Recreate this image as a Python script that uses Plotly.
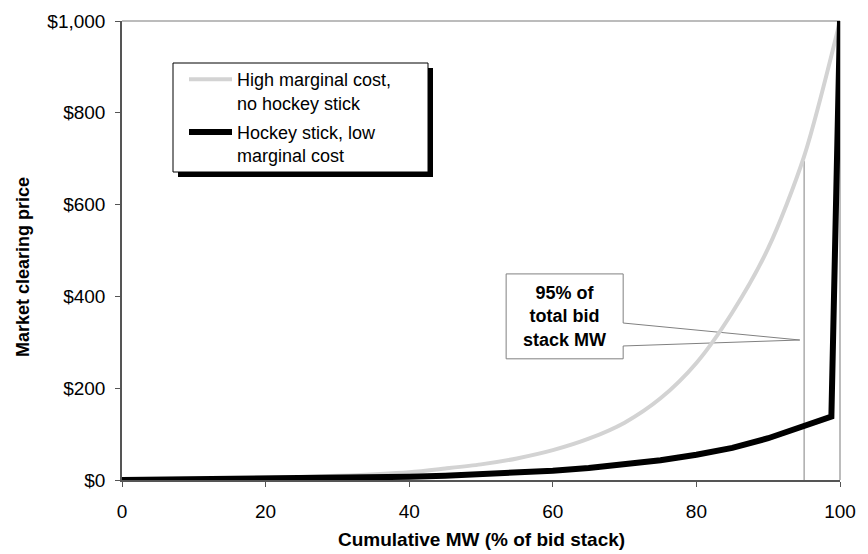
import plotly.graph_objects as go

# Data
mw_high = [0, 10, 20, 30, 40, 45, 50, 55, 60, 65, 70, 75, 80, 85, 90, 95, 100]
price_high = [1, 2.5, 4.5, 9, 17, 25, 34, 47, 65, 90, 125, 178, 255, 365, 505, 705, 1000]

mw_hockey = [0, 5, 10, 15, 20, 25, 30, 35, 40, 45, 50, 55, 60, 65, 70, 75, 80, 85, 90, 95, 97, 98.8, 100]
price_hockey = [0, 0.5, 1, 1.5, 2, 3, 4, 5.5, 7, 9.5, 12, 15, 20, 26, 33, 43, 55, 70, 91, 117, 128, 138, 1000]

x_ticks = [0, 20, 40, 60, 80, 100]
y_ticks = [0, 200, 400, 600, 800, 1000]
y_tick_labels = ["$0", "$200", "$400", "$600", "$800", "$1,000"]

name_high = "High marginal cost,<br>no hockey stick"
name_hockey = "Hockey stick, low<br>marginal cost"
callout_text = "<b>95% of<br>total bid<br>stack MW</b>"
x_title = "<b>Cumulative MW (% of bid stack)</b>"
y_title = "<b>Market clearing price</b>"

FONT = "Liberation Sans, Arial, sans-serif"

# page body has an 8px margin; positions below are in window pixels
def px2paper_x(px):
    return (px - 122) / 718
def px2paper_y(py):
    return (480 - py) / 459

fig = go.Figure()
fig.add_trace(go.Scatter(x=mw_high, y=price_high, mode="lines", name=name_high, legendgroup="a",
                         line=dict(color="#d3d3d3", width=4, shape="spline", smoothing=0.8)))
fig.add_trace(go.Scatter(x=mw_hockey, y=price_hockey, mode="lines", name=name_hockey, legendgroup="b",
                         line=dict(color="#000000", width=6, shape="linear")))

# 95% marker line
fig.add_shape(type="line", x0=95, x1=95, y0=0, y1=695, xref="x", yref="y",
              line=dict(color="#808080", width=1), layer="below")
# callout box with wedge pointer
fig.add_shape(type="path",
              path="M 53.5,449 L 69.8,449 L 69.8,342 L 94.4,305 L 69.8,292 L 69.8,264 L 53.5,264 Z",
              xref="x", yref="y", fillcolor="white", line=dict(color="#808080", width=1), layer="below")
fig.add_annotation(x=61.65, y=356, xref="x", yref="y", text=callout_text, showarrow=False,
                   xanchor="center", yanchor="middle",
                   font=dict(family=FONT, size=18, color="black"), align="center")

# frame top/right borders
fig.add_shape(type="line", x0=0, x1=1, y0=1, y1=1, xref="paper", yref="paper",
              line=dict(color="#a6a6a6", width=1.5), layer="below")
fig.add_shape(type="line", x0=1, x1=1, y0=0, y1=1, xref="paper", yref="paper",
              line=dict(color="#a6a6a6", width=1.5), layer="below")

# legend shadow and box
fig.add_shape(type="rect", x0=px2paper_x(178), x1=px2paper_x(433), y0=px2paper_y(68), y1=px2paper_y(177),
              xref="paper", yref="paper", fillcolor="black", line=dict(width=0), layer="above")
fig.add_shape(type="rect", x0=px2paper_x(173), x1=px2paper_x(428), y0=px2paper_y(63), y1=px2paper_y(172),
              xref="paper", yref="paper", fillcolor="white", line=dict(color="black", width=1), layer="above")

# axis titles
fig.add_annotation(x=px2paper_x(23), y=px2paper_y(267), xref="paper", yref="paper", text=y_title,
                   textangle=-90, showarrow=False, xanchor="center", yanchor="middle",
                   font=dict(family=FONT, size=18, color="black"))
fig.add_annotation(x=px2paper_x(481), y=px2paper_y(539), xref="paper", yref="paper", text=x_title,
                   showarrow=False, xanchor="center", yanchor="middle",
                   font=dict(family=FONT, size=19, color="black"))

fig.update_layout(
    width=868, height=554,
    margin=dict(l=114, r=36, t=13, b=82, autoexpand=False),
    paper_bgcolor="white", plot_bgcolor="white",
    font=dict(family=FONT, size=19, color="black"),
    showlegend=True,
    legend=dict(x=px2paper_x(184), y=px2paper_y(61), xanchor="left", yanchor="top",
                bgcolor="rgba(0,0,0,0)", borderwidth=0,
                font=dict(family=FONT, size=18), valign="top", itemwidth=43,
                tracegroupgap=3),
)
fig.update_xaxes(range=[0, 100], tickvals=x_ticks, showgrid=False, zeroline=False, automargin=False,
                 showline=True, linecolor="#555555", linewidth=1.5,
                 ticks="outside", ticklen=5, tickcolor="#555555", ticklabelstandoff=8,
                 tickfont=dict(family=FONT, size=19))
fig.update_yaxes(range=[0, 1000], tickvals=y_ticks, ticktext=y_tick_labels, automargin=False,
                 showgrid=False, zeroline=False,
                 showline=True, linecolor="#555555", linewidth=1.5,
                 ticks="outside", ticklen=5, tickcolor="#555555", ticklabelstandoff=6,
                 tickfont=dict(family=FONT, size=19))

fig.write_html("out.html")
